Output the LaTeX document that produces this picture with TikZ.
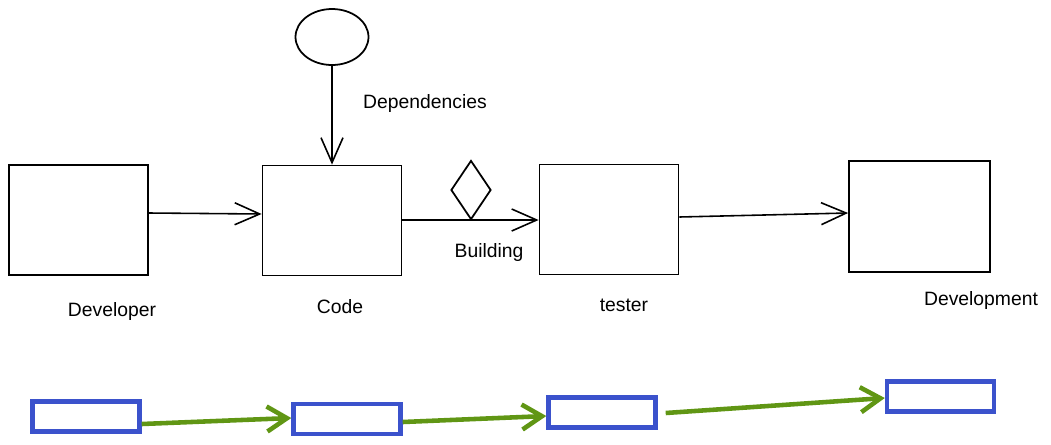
\documentclass[tikz,border=0pt]{standalone}
\usepackage{fontspec}
\setmainfont{Liberation Sans}
\usetikzlibrary{arrows.meta,shapes.geometric}
\begin{document}
\begin{tikzpicture}[x=0.02cm,y=-0.02cm,
    box/.style = {draw, line width=1pt, minimum width=2.78cm, minimum height=2.2cm, inner sep=0pt},
    stage/.style = {draw=stageblue, line width=2.5pt, minimum width=2.14cm, minimum height=0.6cm, inner sep=0pt},
    lbl/.style = {font=\fontsize{11}{13}\selectfont},
    flow/.style = {line width=0.9pt, -{Straight Barb[length=5mm,width=4.4mm]}},
    gflow/.style = {draw=stagegreen, line width=2.6pt, -{Straight Barb[length=4mm,width=5mm]}}]
    \definecolor{stageblue}{RGB}{59,82,204}
    \definecolor{stagegreen}{RGB}{96,150,20}
    \useasboundingbox (0,0) rectangle (1051,444);
    % upper row
    \node[box] (developer) at (78.5,220) {};
    \node[box] (code) at (332,220.5) {};
    \node[box] (tester) at (609,219.5) {};
    \node[box, minimum width=2.82cm, minimum height=2.22cm] (deploy) at (919.5,216.5) {};
    \node[draw, line width=1pt, ellipse, minimum width=1.46cm, minimum height=1.12cm, inner sep=0pt] (deps) at (332,37) {};
    \node[draw, line width=1pt, diamond, minimum width=0.8cm, minimum height=1.18cm, inner sep=0pt] (gate) at (471,190) {};
    \node[lbl] (depslbl) at (425,103) {Dependencies};
    \node[lbl] (devlbl) at (112,311) {Developer};
    \node[lbl] (codelbl) at (340,307) {Code};
    \node[lbl] (buildlbl) at (489,252) {Building};
    \node[lbl] (testlbl) at (624,305) {tester};
    \node[lbl] (deploylbl) at (981,300) {Development};
    \draw[flow] (deps.south) -- (code.north);
    \draw[flow] (developer.east |- 0,213) -- (code.west |- 0,214);
    \draw[flow] (code.east |- 0,220) -- (tester.west |- 0,220);
    \draw[flow] (tester.east |- 0,217) -- (deploy.west |- 0,213);
    % lower row
    \node[stage] (s1) at (86,416.5) {};
    \node[stage] (s2) at (347,419) {};
    \node[stage] (s3) at (602,412.5) {};
    \node[stage] (s4) at (940.5,396.5) {};
    \draw[gflow] (s1.east |- 0,424) -- (s2.west |- 0,418);
    \draw[gflow] (s2.east |- 0,422) -- (s3.west |- 0,416);
    \draw[gflow] ([xshift=0.16cm]s3.east |- 0,413) -- (s4.west |- 0,398);
\end{tikzpicture}
\end{document}
